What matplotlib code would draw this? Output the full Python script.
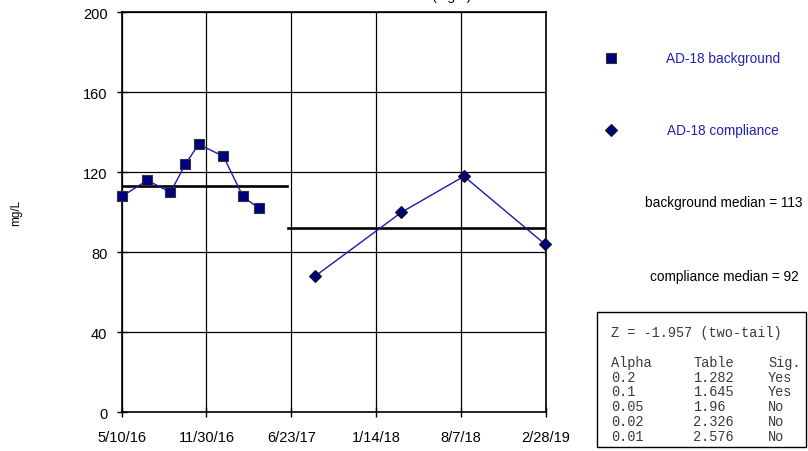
import matplotlib
matplotlib.use('Agg')
import matplotlib.pyplot as plt
import pandas as pd

plt.rcParams['font.family'] = ['Liberation Sans', 'DejaVu Sans']

# background samples
bg_dates = ['2016-05-10', '2016-07-10', '2016-09-04', '2016-10-10',
            '2016-11-11', '2017-01-10', '2017-02-26', '2017-04-05']
bg_vals = [108, 116, 110, 124, 134, 128, 108, 102]

# compliance samples
cp_dates = ['2017-08-19', '2018-03-16', '2018-08-14', '2019-02-26']
cp_vals = [68, 100, 118, 84]

bg_median = 113
cp_median = 92
bg_med_span = ['2016-05-10', '2017-06-12']
cp_med_span = ['2017-06-16', '2019-02-28']

tick_labels = ['5/10/16', '11/30/16', '6/23/17', '1/14/18', '8/7/18', '2/28/19']
y_ticks = [0, 40, 80, 120, 160, 200]

z_text = 'Z = -1.957 (two-tail)'
alpha_col = ['0.2', '0.1', '0.05', '0.02', '0.01']
table_col = ['1.282', '1.645', '1.96', '2.326', '2.576']
sig_col = ['Yes', 'Yes', 'No', 'No', 'No']

navy = '#000080'
line_blue = '#1a1aa8'
text_blue = '#2222b4'

fig = plt.figure(figsize=(8.08, 4.52), dpi=100)
ax = fig.add_axes([0.151, 0.0856, 0.5247, 0.8850])

bx = pd.to_datetime(bg_dates)
cx = pd.to_datetime(cp_dates)
ax.plot(bx, bg_vals, color=line_blue, lw=1, marker='s', ms=7,
        mfc=navy, mec='#333333', mew=0.8, zorder=4, clip_on=False)
ax.plot(cx, cp_vals, color=line_blue, lw=1, marker='D', ms=6.2,
        mfc=navy, mec='#111111', mew=0.8, zorder=4, clip_on=False)

ax.plot(pd.to_datetime(bg_med_span), [bg_median, bg_median], color='black', lw=1.9, zorder=3)
ax.plot(pd.to_datetime(cp_med_span), [cp_median, cp_median], color='black', lw=1.9, zorder=3)

tick_pos = pd.to_datetime(tick_labels, format='%m/%d/%y')
ax.set_xlim(tick_pos[0], tick_pos[-1])
ax.set_xticks(tick_pos)
ax.set_xticklabels(tick_labels)
ax.set_ylim(0, 200)
ax.set_yticks(y_ticks)
ax.grid(True, color='black', lw=0.9)
ax.set_axisbelow(True)
ax.tick_params(direction='inout', length=7, width=1, labelsize=10.5, colors='black')
ax.tick_params(axis='x', pad=9)
ax.tick_params(axis='y', pad=7)
for s in ax.spines.values():
    s.set_linewidth(1.2)
    s.set_color('black')

# title, mostly cut off at the top edge
fig.text(431 / 808, 1.0, '(mg/L)', ha='left', va='baseline', fontsize=10)

fig.text(16 / 808, 1 - 213 / 452, 'mg/L', rotation=90, ha='center', va='center', fontsize=8.5)

# legend-like labels on the right
fig.lines.append(plt.Line2D([611 / 808], [1 - 59 / 452], marker='s', ms=7, mfc=navy,
                            mec='#333333', mew=0.8, transform=fig.transFigure))
fig.lines.append(plt.Line2D([611 / 808], [1 - 131 / 452], marker='D', ms=6.2, mfc=navy,
                            mec='#111111', mew=0.8, transform=fig.transFigure))
fig.text(723 / 808, 1 - 59 / 452, 'AD-18 background', color=text_blue, ha='center', va='center', fontsize=9.8)
fig.text(723 / 808, 1 - 131 / 452, 'AD-18 compliance', color=text_blue, ha='center', va='center', fontsize=9.8)
fig.text(724 / 808, 1 - 203 / 452, 'background median = %d' % bg_median, ha='center', va='center', fontsize=9.8)
fig.text(724 / 808, 1 - 277 / 452, 'compliance median = %d' % cp_median, ha='center', va='center', fontsize=9.8)

# stats box
fig.patches.append(plt.Rectangle((597 / 808, 1 - 448 / 452), 209 / 808, 135 / 452, fill=False,
                                 ec='black', lw=1, transform=fig.transFigure))
mono = dict(family='Liberation Mono', fontsize=9.8, color='#3a3a3a', va='center')
fig.text(611 / 808, 1 - 333 / 452, z_text, **mono)
fig.text(611 / 808, 1 - 363 / 452, 'Alpha', **mono)
fig.text(693 / 808, 1 - 363 / 452, 'Table', **mono)
fig.text(768 / 808, 1 - 363 / 452, 'Sig.', **mono)
for i in range(len(alpha_col)):
    yy = 1 - (377.7 + i * 14.75) / 452
    fig.text(611 / 808, yy, alpha_col[i], **mono)
    fig.text(693 / 808, yy, table_col[i], **mono)
    fig.text(768 / 808, yy, sig_col[i], **mono)

fig.savefig('out.png', dpi=100)
